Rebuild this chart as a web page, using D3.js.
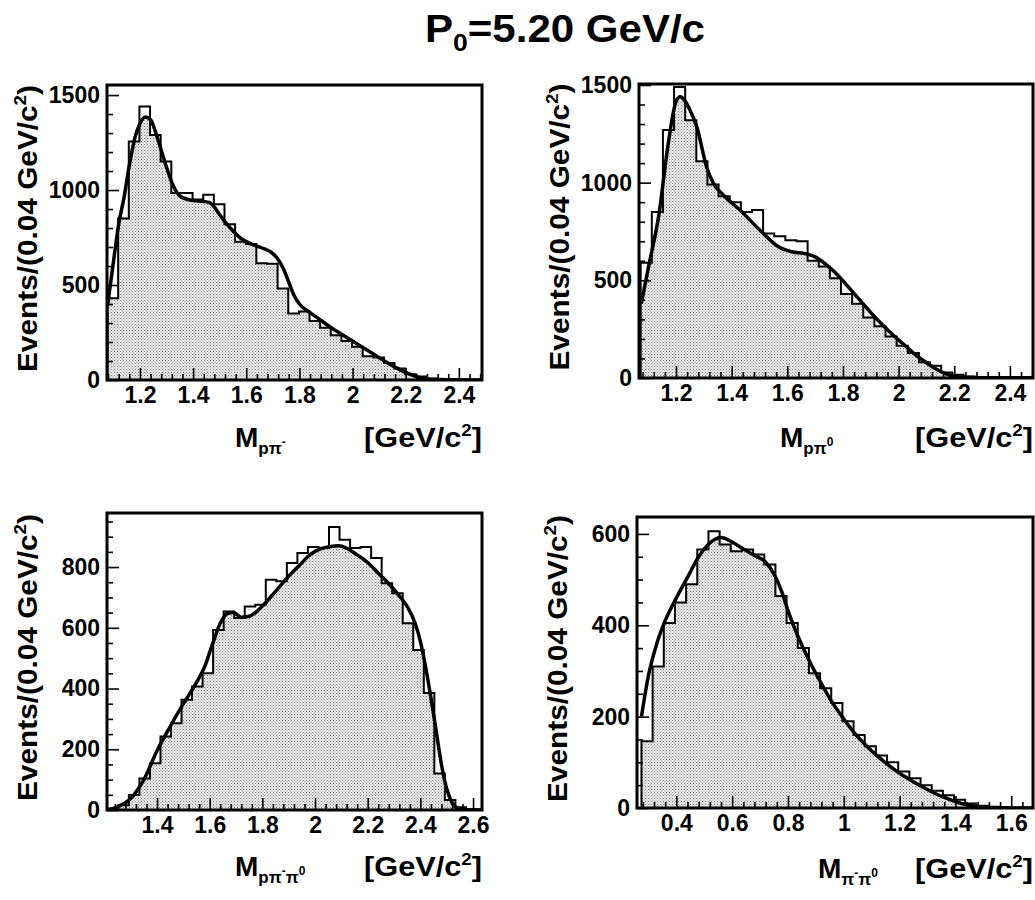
<!DOCTYPE html>
<html>
<head>
<meta charset="utf-8">
<script src="https://cdn.jsdelivr.net/npm/d3@7"></script>
<style>
  body { margin: 0; background: #fff; }
  svg text { font-family: "Liberation Sans", Arial, sans-serif; font-weight: bold; fill: #000; }
</style>
</head>
<body>
<svg id="chart" width="1035" height="900"></svg>
<script>
// bin width of every histogram, GeV/c^2
const binWidth = 0.04;

// M(p pi-)
const pPimStart = 1.078;
const pPimCounts = [430, 850, 1255, 1440, 1290, 1150, 985, 985, 950, 975, 925, 820, 728, 716, 615, 612, 482, 350, 360, 310, 275, 235, 205, 175, 125, 118, 90, 60, 30, 18, 8, 4, 2, 1, 0];
const pPimFitMass   = [1.078, 1.10, 1.12, 1.14, 1.16, 1.18, 1.20, 1.22, 1.24, 1.26, 1.28, 1.30, 1.32, 1.34, 1.36, 1.40, 1.44, 1.46, 1.48, 1.50, 1.54, 1.58, 1.62, 1.66, 1.70, 1.72, 1.74, 1.76, 1.78, 1.80, 1.84, 1.88, 1.92, 1.96, 2.00, 2.04, 2.08, 2.12, 2.16, 2.20, 2.24, 2.28, 2.32, 2.40, 2.487];
const pPimFitEvents = [390, 620, 820, 960, 1130, 1270, 1350, 1385, 1370, 1300, 1210, 1120, 1040, 985, 960, 945, 940, 935, 910, 870, 800, 745, 715, 695, 665, 635, 585, 515, 445, 400, 355, 315, 275, 240, 205, 170, 135, 100, 68, 40, 18, 6, 2, 0, 0];

// M(p pi0)
const pPi0Start = 1.073;
const pPi0Counts = [590, 850, 1270, 1490, 1320, 1110, 990, 930, 900, 850, 860, 740, 725, 705, 700, 600, 571, 511, 430, 380, 310, 265, 213, 165, 128, 80, 63, 28, 17, 8, 4, 2, 2, 3, 1];
const pPi0FitMass   = [1.075, 1.10, 1.14, 1.17, 1.20, 1.215, 1.25, 1.275, 1.31, 1.335, 1.37, 1.43, 1.51, 1.57, 1.62, 1.66, 1.70, 1.74, 1.78, 1.82, 1.86, 1.90, 1.94, 1.98, 2.02, 2.06, 2.10, 2.14, 2.18, 2.22, 2.26, 2.35, 2.483];
const pPi0FitEvents = [380, 560, 850, 1180, 1415, 1440, 1372, 1285, 1080, 995, 937, 860, 745, 670, 645, 638, 620, 580, 528, 465, 400, 335, 275, 220, 170, 120, 78, 42, 16, 5, 2, 1, 1];

// M(p pi- pi0)
const pPimPi0Start = 1.213;
const pPimPi0Counts = [5, 16, 49, 104, 154, 242, 286, 363, 407, 450, 593, 654, 632, 670, 676, 758, 753, 813, 846, 866, 863, 932, 890, 863, 866, 830, 747, 714, 615, 527, 385, 120, 33, 9, 2];
const pPimPi0FitMass   = [1.213, 1.25, 1.30, 1.35, 1.40, 1.45, 1.50, 1.55, 1.58, 1.61, 1.64, 1.67, 1.69, 1.72, 1.75, 1.78, 1.82, 1.86, 1.90, 1.94, 1.98, 2.02, 2.06, 2.09, 2.12, 2.16, 2.20, 2.24, 2.28, 2.32, 2.35, 2.38, 2.40, 2.42, 2.44, 2.46, 2.48, 2.50, 2.52, 2.54, 2.57, 2.634];
const pPimPi0FitEvents = [0, 10, 38, 100, 195, 275, 350, 420, 470, 545, 615, 648, 650, 635, 638, 655, 690, 730, 770, 805, 840, 860, 868, 870, 862, 840, 815, 780, 745, 705, 670, 615, 555, 470, 370, 260, 150, 70, 25, 6, 0, 0];

// M(pi- pi0)
const pimPi0Start = 0.275;
const pimPi0Counts = [146, 310, 405, 450, 490, 566, 606, 577, 562, 566, 555, 533, 464, 405, 350, 295, 262, 230, 190, 160, 135, 115, 100, 80, 65, 50, 38, 28, 18, 10, 5, 3, 1, 0, 0];
const pimPi0FitMass   = [0.275, 0.30, 0.33, 0.36, 0.40, 0.44, 0.48, 0.52, 0.56, 0.60, 0.64, 0.68, 0.72, 0.75, 0.78, 0.80, 0.84, 0.88, 0.92, 0.96, 1.00, 1.04, 1.08, 1.12, 1.16, 1.20, 1.24, 1.28, 1.32, 1.36, 1.40, 1.44, 1.48, 1.52, 1.56, 1.678];
const pimPi0FitEvents = [200, 290, 360, 410, 460, 505, 550, 580, 592, 582, 567, 553, 538, 512, 470, 432, 370, 318, 272, 230, 195, 163, 137, 114, 94, 76, 61, 47, 34, 23, 14, 7, 3, 1, 0, 0];

// tick labels
const pPimXTicks = [1.2, 1.4, 1.6, 1.8, 2.0, 2.2, 2.4];
const pPimPi0XTicks = [1.4, 1.6, 1.8, 2.0, 2.2, 2.4, 2.6];
const pimPi0XTicks = [0.4, 0.6, 0.8, 1.0, 1.2, 1.4, 1.6];
const topYTicks = [0, 500, 1000, 1500];
const pPimPi0YTicks = [0, 200, 400, 600, 800];
const pimPi0YTicks = [0, 200, 400, 600];

const titleText = [['P', 38, 0], ['0', 24, 9], ['=5.20 GeV/c', 38, 0]];
const yTitle = [['Events/(0.04 GeV/c', 27, 0], ['2', 17, -11], [')', 27, 0]];
const unitTitle = [['[GeV/c', 28, 0], ['2', 17, -11], [']', 28, 0]];

const panels = [
  { id: 'ppim', box: [107, 482, 85, 380], xDomain: [1.076, 2.487], yMax: 1553,
    start: pPimStart, counts: pPimCounts, fitM: pPimFitMass, fitN: pPimFitEvents,
    xTicks: pPimXTicks, xMinor: 0.04, yTicks: topYTicks, yMinor: 100, mx: 235, ty: 447,
    mass: [['M', 28, 0], ['pπ', 17, 7], ['-', 12, -1]] },
  { id: 'ppi0', box: [639, 1033, 84, 378], xDomain: [1.067, 2.483], yMax: 1505,
    start: pPi0Start, counts: pPi0Counts, fitM: pPi0FitMass, fitN: pPi0FitEvents,
    xTicks: pPimXTicks, xMinor: 0.04, yTicks: topYTicks, yMinor: 100, mx: 780, ty: 447,
    mass: [['M', 28, 0], ['pπ', 17, 7], ['0', 12, -1]] },
  { id: 'ppimpi0', box: [107, 482, 513, 810], xDomain: [1.21, 2.634], yMax: 978,
    start: pPimPi0Start, counts: pPimPi0Counts, fitM: pPimPi0FitMass, fitN: pPimPi0FitEvents,
    xTicks: pPimPi0XTicks, xMinor: 0.04, yTicks: pPimPi0YTicks, yMinor: 50, mx: 235, ty: 876,
    mass: [['M', 28, 0], ['pπ', 17, 7], ['-', 12, -1], ['π', 17, 7], ['0', 12, -1]] },
  { id: 'pimpi0', box: [637, 1033, 517, 808], xDomain: [0.259, 1.678], yMax: 637,
    start: pimPi0Start, counts: pimPi0Counts, fitM: pimPi0FitMass, fitN: pimPi0FitEvents,
    xTicks: pimPi0XTicks, xMinor: 0.04, yTicks: pimPi0YTicks, yMinor: 50, mx: 818, ty: 878,
    mass: [['M', 28, 0], ['π', 17, 7], ['-', 12, -1], ['π', 17, 7], ['0', 12, -1]] }
];

const svg = d3.select('#chart');
const defs = svg.append('defs');

// light grey dot pattern like the ROOT fill style
const pat = defs.append('pattern').attr('id', 'dots')
  .attr('width', 3).attr('height', 3).attr('patternUnits', 'userSpaceOnUse');
pat.append('rect').attr('width', 3).attr('height', 3).attr('fill', '#e4e4e4');
pat.append('rect').attr('width', 1).attr('height', 1).attr('fill', '#8e8e8e');
pat.append('rect').attr('x', 1.5).attr('y', 1.5).attr('width', 1).attr('height', 1).attr('fill', '#b8b8b8');

// text with sub/superscripts: parts are [text, size, shift below baseline]
function richText(sel, parts, len) {
  let prev = 0;
  parts.forEach(function(p) {
    sel.append('tspan')
      .attr('font-size', p[1])
      .attr('dy', p[2] - prev)
      .text(p[0]);
    prev = p[2];
  });
  if (len) sel.attr('textLength', len).attr('lengthAdjust', 'spacingAndGlyphs');
  return sel;
}

function minorValues(domain, step, majors) {
  const out = [];
  const k0 = Math.ceil(domain[0] / step - 1e-6), k1 = Math.floor(domain[1] / step + 1e-6);
  for (let k = k0; k <= k1; k++) {
    const v = +(k * step).toFixed(6);
    if (!majors.some(m => Math.abs(m - v) < 1e-6)) out.push(v);
  }
  return out;
}

panels.forEach(function(p) {
  const [x0, x1, y0, y1] = p.box;
  const x = d3.scaleLinear().domain(p.xDomain).range([x0, x1]);
  const y = d3.scaleLinear().domain([0, p.yMax]).range([y1, y0]);

  defs.append('clipPath').attr('id', 'frame-' + p.id)
    .append('rect').attr('x', x0).attr('y', y0).attr('width', x1 - x0).attr('height', y1 - y0);

  const fit = p.fitM.map((m, i) => [m, p.fitN[i]]);
  const underFit = d3.area().curve(d3.curveMonotoneX)
    .x(d => x(d[0])).y0(y(0)).y1(d => y(d[1]));
  defs.append('clipPath').attr('id', 'under-' + p.id)
    .append('path').attr('d', underFit(fit));

  const steps = p.counts.map((c, i) => [p.start + i * binWidth, c]);
  const end = p.start + p.counts.length * binWidth;
  steps.push([end, p.counts[p.counts.length - 1]]);

  const g = svg.append('g').attr('clip-path', 'url(#frame-' + p.id + ')');

  // filled part: data histogram, only where it lies under the fit
  g.append('path')
    .attr('d', d3.area().curve(d3.curveStepAfter).x(d => x(d[0])).y0(y(0)).y1(d => y(d[1]))(steps))
    .attr('fill', 'url(#dots)')
    .attr('clip-path', 'url(#under-' + p.id + ')');

  // data histogram outline
  const outline = [[p.start, 0]].concat(steps, [[end, 0]]);
  g.append('path')
    .attr('d', d3.line().curve(d3.curveStepAfter).x(d => x(d[0])).y(d => y(d[1]))(outline))
    .attr('fill', 'none').attr('stroke', '#000').attr('stroke-width', 2);

  // fit curve
  g.append('path')
    .attr('d', d3.line().curve(d3.curveMonotoneX).x(d => x(d[0])).y(d => y(d[1]))(fit))
    .attr('fill', 'none').attr('stroke', '#000').attr('stroke-width', 3.5)
    .attr('stroke-linejoin', 'round');

  // axes, ticks pointing inside
  const fmt = d3.format('.2~f');
  const yAxis = svg.append('g').attr('transform', 'translate(' + x0 + ',0)');
  yAxis.call(d3.axisLeft(y).tickValues(minorValues([0, p.yMax], p.yMinor, p.yTicks))
    .tickSizeInner(-6).tickSizeOuter(0).tickFormat(''));
  const yMaj = svg.append('g').attr('transform', 'translate(' + x0 + ',0)');
  yMaj.call(d3.axisLeft(y).tickValues(p.yTicks).tickSizeInner(-12).tickSizeOuter(0)
    .tickPadding(7).tickFormat(d3.format('d')));

  const xAxis = svg.append('g').attr('transform', 'translate(0,' + y1 + ')');
  xAxis.call(d3.axisBottom(x).tickValues(minorValues(p.xDomain, p.xMinor, p.xTicks))
    .tickSizeInner(-6).tickSizeOuter(0).tickFormat(''));
  const xMaj = svg.append('g').attr('transform', 'translate(0,' + y1 + ')');
  xMaj.call(d3.axisBottom(x).tickValues(p.xTicks).tickSizeInner(-12).tickSizeOuter(0)
    .tickPadding(7).tickFormat(fmt));

  [yAxis, yMaj, xAxis, xMaj].forEach(function(a) {
    a.select('.domain').remove();
    a.selectAll('line').attr('stroke', '#000').attr('stroke-width', 1.6);
    a.selectAll('text').attr('font-size', 23).attr('font-family', null);
  });

  // frame
  svg.append('rect')
    .attr('x', x0).attr('y', y0).attr('width', x1 - x0).attr('height', y1 - y0)
    .attr('fill', 'none').attr('stroke', '#000').attr('stroke-width', 3);

  // titles
  richText(svg.append('text')
    .attr('transform', 'translate(' + (x0 - 70) + ',' + ((y0 + y1) / 2 - 4) + ') rotate(-90)')
    .attr('text-anchor', 'middle'), yTitle, 287);
  richText(svg.append('text').attr('x', p.mx).attr('y', p.ty), p.mass);
  richText(svg.append('text').attr('x', x1 - 118).attr('y', p.ty), unitTitle, 118);
});

richText(svg.append('text').attr('x', 425).attr('y', 42), titleText, 280);
</script>
</body>
</html>
